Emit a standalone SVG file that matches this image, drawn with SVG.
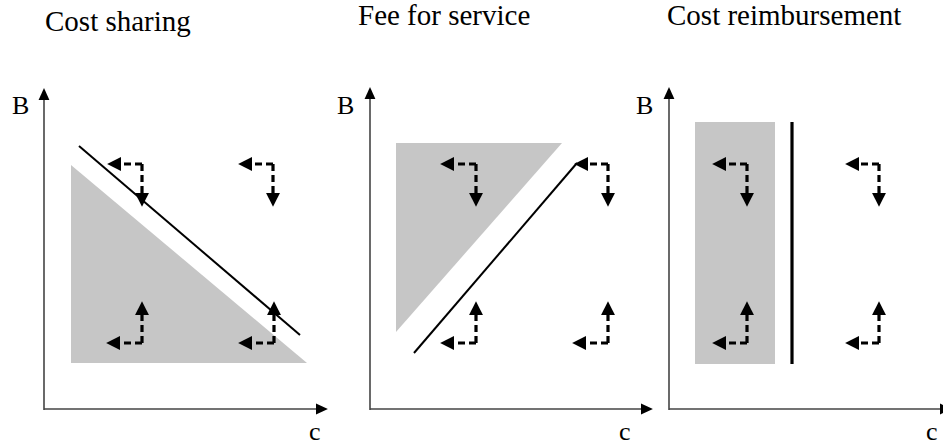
<svg xmlns="http://www.w3.org/2000/svg" width="943" height="448" viewBox="0 0 943 448">
<style>
.t{font-family:"Liberation Serif","Times New Roman",Times,serif;font-size:29px;fill:#000}
.l{font-family:"Liberation Serif","Times New Roman",Times,serif;font-size:26px;fill:#000}
.ax{fill:none;stroke:#444;stroke-width:1.6}
.sh{fill:#c6c6c6;stroke:none}
.bl{fill:none;stroke:#000;stroke-width:2}
.bv{fill:none;stroke:#000;stroke-width:3.2}
.da{fill:none;stroke:#000;stroke-width:3.2;stroke-dasharray:7 4;marker-end:url(#ah)}
.axa{marker-end:url(#aa)}
</style>
<defs>
<marker id="ah" markerUnits="userSpaceOnUse" markerWidth="14" markerHeight="14" viewBox="0 0 13 13" refX="2" refY="6.5" orient="auto">
<path d="M0,0 L13,6.5 L0,13 z" fill="#000"/>
</marker>
<marker id="aa" markerUnits="userSpaceOnUse" markerWidth="12" markerHeight="12" viewBox="0 0 11 10" refX="1" refY="5" orient="auto">
<path d="M0,0 L11,5 L0,10 z" fill="#000"/>
</marker>
</defs>
<rect width="943" height="448" fill="#fff"/>
<g id="panel1">
<text class="t" x="45" y="31" font-family="Liberation Serif, serif">Cost sharing</text>
<polygon class="sh" points="71,165 71,363 307,363"/>
<text class="l" x="12" y="114" font-family="Liberation Serif, serif">B</text>
<text class="l" x="309" y="440" font-family="Liberation Serif, serif">c</text>
</g>
<g id="panel2">
<text class="t" x="358" y="25" font-family="Liberation Serif, serif">Fee for service</text>
<polygon class="sh" points="396,143 562,143 396,332"/>
<text class="l" x="337" y="114" font-family="Liberation Serif, serif">B</text>
<text class="l" x="619" y="440" font-family="Liberation Serif, serif">c</text>
</g>
<g id="panel3">
<text class="t" x="667" y="25" font-family="Liberation Serif, serif">Cost reimbursement</text>
<rect class="sh" x="695" y="122" width="80" height="242"/>
<text class="l" x="636" y="114" font-family="Liberation Serif, serif">B</text>
<text class="l" x="926" y="440" font-family="Liberation Serif, serif">c</text>
</g>
<g id="connectors">
<path class="ax axa" d="M44,410 V99"/>
<path class="ax axa" d="M44,409 H317"/>
<path class="ax axa" d="M370,410 V98"/>
<path class="ax axa" d="M370,409 H642"/>
<path class="ax axa" d="M669,410 V98"/>
<path class="ax axa" d="M669,409 H941"/>
<path class="bl" d="M79,146 L300,335"/>
<path class="bl" d="M414,353 L577,163"/>
<path class="bv" d="M792,122 V364"/>
<path class="da" d="M142,164 H119"/><path class="da" d="M142,164 V195"/>
<path class="da" d="M273,164 H250"/><path class="da" d="M273,164 V195"/>
<path class="da" d="M142,343 H118"/><path class="da" d="M142,343 V313"/>
<path class="da" d="M274,343 H250"/><path class="da" d="M274,343 V313"/>
<path class="da" d="M476,164 H452"/><path class="da" d="M476,164 V195"/>
<path class="da" d="M608,164 H586"/><path class="da" d="M608,164 V195"/>
<path class="da" d="M476,343 H452"/><path class="da" d="M476,343 V313"/>
<path class="da" d="M608,343 H584"/><path class="da" d="M608,343 V313"/>
<path class="da" d="M747,164 H724"/><path class="da" d="M747,164 V195"/>
<path class="da" d="M879,164 H857"/><path class="da" d="M879,164 V195"/>
<path class="da" d="M747,343 H724"/><path class="da" d="M747,343 V313"/>
<path class="da" d="M879,343 H857"/><path class="da" d="M879,343 V313"/>
</g>
</svg>
